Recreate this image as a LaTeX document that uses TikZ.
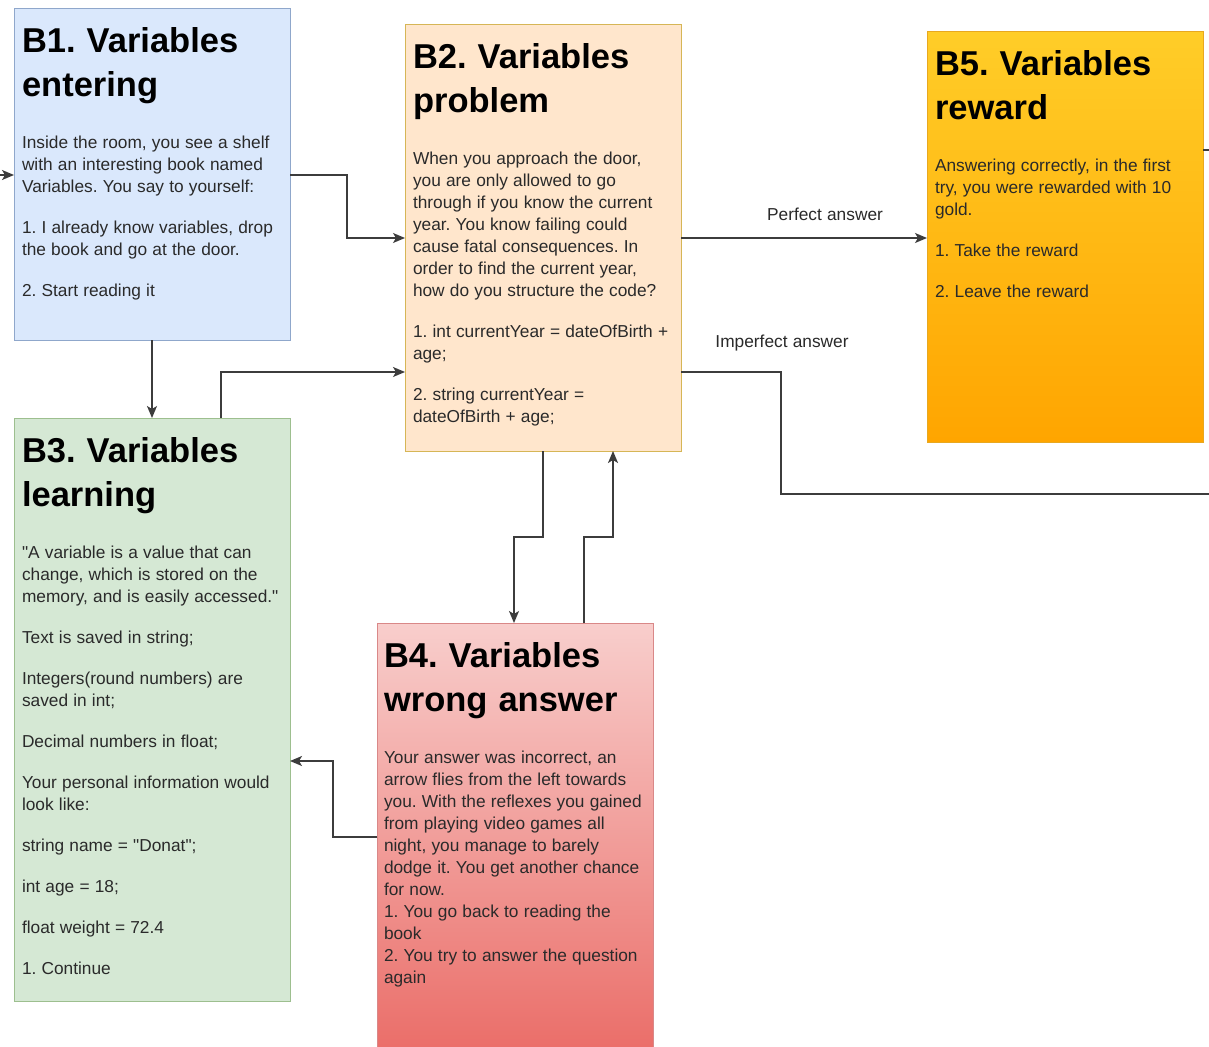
\documentclass[tikz,border=0pt]{standalone}
\usepackage{fontspec}
\setmainfont{Liberation Sans}[Ligatures=TeXOff]
\usetikzlibrary{arrows.meta}
\setlength{\parindent}{0pt}
\frenchspacing
\definecolor{bfill}{HTML}{DAE8FC}
\definecolor{bdraw}{HTML}{8FA7CB}
\definecolor{pfill}{HTML}{FFE6CC}
\definecolor{pdraw}{HTML}{D6B656}
\definecolor{gfill}{HTML}{D5E8D4}
\definecolor{gdraw}{HTML}{9DBF8F}
\definecolor{otop}{HTML}{FFCD28}
\definecolor{obot}{HTML}{FFA500}
\definecolor{odraw}{HTML}{E8A820}
\definecolor{rtop}{HTML}{F8CECC}
\definecolor{rbot}{HTML}{EA6B66}
\definecolor{rdraw}{HTML}{D98888}
\definecolor{bodyc}{HTML}{2A2A2A}
\definecolor{linec}{HTML}{3C3C3C}
\newcommand{\ttlfont}{\fontsize{34.5}{44}\selectfont\bfseries\spaceskip=0.32em plus 0.1em\relax}
\newcommand{\bdyfont}{\fontsize{17.3}{22}\selectfont\mdseries\spaceskip=0.3em plus 0.1em\relax}
\newcommand{\ttlpart}[2]{{\ttlfont\leavevmode\color{black}#1\\#2\par}\vspace{30pt}\bdyfont}
\newcommand{\pgap}{\par\vspace{19pt}}
\newcommand{\dq}{\symbol{34}}
\tikzset{
  x=1pt, y=-1pt,
  box/.style={rectangle, inner sep=0pt, outer sep=0pt, line width=1pt, anchor=north west},
  txt/.style={anchor=north west, inner sep=0pt, outer sep=0pt, text width=300pt, align=left, text=bodyc},
  lbl/.style={anchor=base, inner sep=0pt, text=bodyc, font=\bdyfont},
  conn/.style={draw=linec, line width=1.4pt},
  arr/.style={conn, -{Stealth[length=12pt, width=10pt, inset=3pt]}},
}
\begin{document}
\begin{tikzpicture}
\useasboundingbox (0,0) rectangle (1209,1046);
\clip (0,0) rectangle (1209,1046);
\fill[white] (0,0) rectangle (1209,1046);

% boxes
\node[box, fill=bfill, draw=bdraw, minimum width=276pt, minimum height=331pt] (b1) at (14,9) {};
\node[box, fill=pfill, draw=pdraw, minimum width=276pt, minimum height=426pt] (b2) at (405,25) {};
\node[box, top color=otop, bottom color=obot, draw=odraw, minimum width=276pt, minimum height=410pt] (b5) at (927,32) {};
\node[box, fill=gfill, draw=gdraw, minimum width=276pt, minimum height=583pt] (b3) at (14,418) {};
\node[box, top color=rtop, bottom color=rbot, draw=rdraw, minimum width=276pt, minimum height=440pt] (b4) at (377,623) {};

% texts
\node[txt] (b1t) at ([xshift=8pt,yshift=-19pt]b1.north west) {%
\ttlpart{B1. Variables}{entering}%
Inside the room, you see a shelf\\with an interesting book named\\Variables. You say to yourself:\pgap
1. I already know variables, drop\\the book and go at the door.\pgap
2. Start reading it\par};

\node[txt] (b2t) at ([xshift=8pt,yshift=-19pt]b2.north west) {%
\ttlpart{B2. Variables}{problem}%
When you approach the door,\\you are only allowed to go\\through if you know the current\\year. You know failing could\\cause fatal consequences. In\\order to find the current year,\\how do you structure the code?\pgap
1. int currentYear = dateOfBirth +\\age;\pgap
2. string currentYear =\\dateOfBirth + age;\par};

\node[txt] (b5t) at ([xshift=8pt,yshift=-19pt]b5.north west) {%
\ttlpart{B5. Variables}{reward}%
Answering correctly, in the first\\try, you were rewarded with 10\\gold.\pgap
1. Take the reward\pgap
2. Leave the reward\par};

\node[txt] (b3t) at ([xshift=8pt,yshift=-19pt]b3.north west) {%
\ttlpart{B3. Variables}{learning}%
\dq A variable is a value that can\\change, which is stored on the\\memory, and is easily accessed.\dq\pgap
Text is saved in string;\pgap
Integers(round numbers) are\\saved in int;\pgap
Decimal numbers in float;\pgap
Your personal information would\\look like:\pgap
string name = \dq Donat\dq;\pgap
int age = 18;\pgap
float weight = 72.4\pgap
1. Continue\par};

\node[txt] (b4t) at ([xshift=7pt,yshift=-19pt]b4.north west) {%
\ttlpart{B4. Variables}{wrong answer}%
Your answer was incorrect, an\\arrow flies from the left towards\\you. With the reflexes you gained\\from playing video games all\\night, you manage to barely\\dodge it. You get another chance\\for now.\\1. You go back to reading the\\book\\2. You try to answer the question\\again\par};

% connectors
\coordinate (in1) at (-20,175);
\draw[arr] (in1) -- (b1.west |- in1);
\draw[arr] (b1.east |- 0,175) -| (347,238) -- (b2.west |- 0,238);
\draw[arr] (b1.south) -- (b3.north);
\draw[arr] (b3.north -| 221,0) |- (b2.west |- 0,372);
\draw[arr] (b2.east |- 0,238) -- (b5.west |- 0,238);
\coordinate (out1) at (1220,494);
\draw[conn] (b2.east |- 0,372) -| (781,494) -- (out1);
\coordinate (out2) at (1220,150);
\draw[conn] (b5.east |- out2) -- (out2);
\draw[arr] (b2.south -| 543,0) -- (543,537) -| (b4.north -| 514,0);
\draw[arr] (b4.north -| 584,0) -- (584,537) -| (b2.south -| 613,0);
\draw[arr] (b4.west |- 0,837) -| (333,761) -- (b3.east |- 0,761);

% labels
\node[lbl] (lp) at (825,220) {Perfect answer};
\node[lbl] (li) at (782,347) {Imperfect answer};
\end{tikzpicture}
\end{document}
